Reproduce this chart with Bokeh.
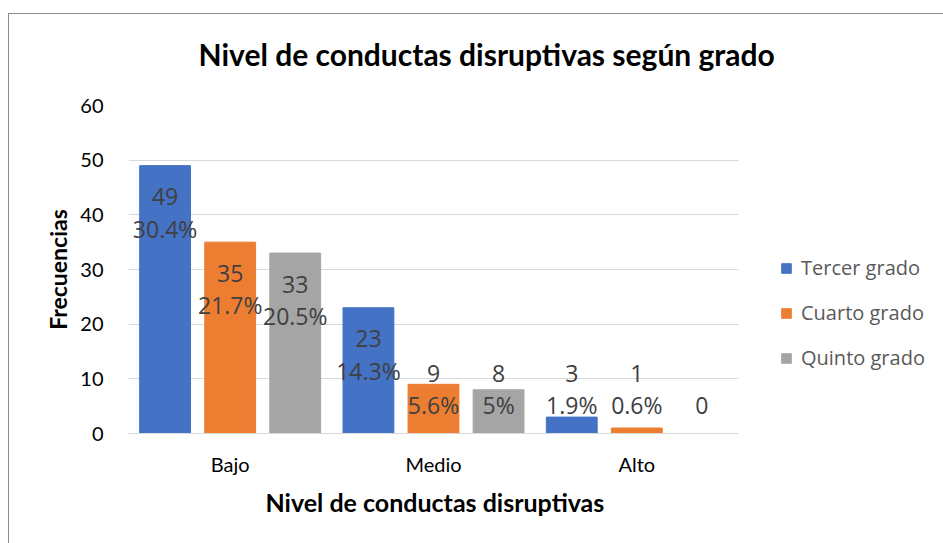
from bokeh.plotting import figure
from bokeh.models import ColumnDataSource, Range1d, Legend, LegendItem, FixedTicker, Title
from bokeh.core.properties import value
from bokeh.embed import file_html
from bokeh.resources import INLINE

categories = ["Bajo", "Medio", "Alto"]
series = ["Tercer grado", "Cuarto grado", "Quinto grado"]
tercer = [49, 23, 3]
cuarto = [35, 9, 1]
quinto = [33, 8, 0]
tercer_pct = ["30.4%", "14.3%", "1.9%"]
cuarto_pct = ["21.7%", "5.6%", "0.6%"]
quinto_pct = ["20.5%", "5%", ""]
y_ticks = [0, 10, 20, 30, 40, 50, 60]

colors = ["#4472C4", "#ED7D31", "#A5A5A5"]
offsets = [-0.32, 0.0, 0.32]

W, H = 943, 543
FRAME_L, FRAME_R_PLOT = 128, 738          # plot area (gridlines) in pixels
n_cat = len(categories)
x_end = n_cat * (W - FRAME_L) / (FRAME_R_PLOT - FRAME_L)   # frame extends to the right edge for the legend
centers = [i + 0.5 for i in range(n_cat)]

p = figure(x_range=Range1d(0, x_end), y_range=Range1d(0, 60), width=W, height=H,
           output_backend="svg", toolbar_location=None,
           min_border_left=FRAME_L, min_border_right=0, min_border_top=105, min_border_bottom=110)
p.outline_line_color = None
p.background_fill_color = "white"
p.border_fill_alpha = 0
p.styles = {
    "background": "linear-gradient(#8C8C8C,#8C8C8C) 8px 13px / 100% 1px no-repeat, "
                  "linear-gradient(#8C8C8C,#8C8C8C) 8px 13px / 1px 100% no-repeat, white"
}

FONT = "Lato"
LBL_FONT = "Open Sans"

p.title.text = "Nivel de conductas disruptivas según grado"
p.title.align = "left"
p.title.vertical_align = "top"
p.title.offset = 70
p.title.standoff = 63
p.title.text_font = FONT
p.title.text_font_style = "bold"
p.title.text_font_size = "30px"
p.title.text_color = "#000000"

renderers = []
for vals, pcts, col, off, name in zip([tercer, cuarto, quinto],
                                      [tercer_pct, cuarto_pct, quinto_pct],
                                      colors, offsets, series):
    y1, y2, t1, xs = [], [], [], []
    for c, v, pc in zip(centers, vals, pcts):
        a = max(v - 5.7, 11.0)
        b = a - 5.85
        y1.append(a if pc else b)
        y2.append(b)
        t1.append(str(v))
        xs.append(c + off)
    src = ColumnDataSource(dict(x=xs, v=vals, pct=pcts, y1=y1, y2=y2, t1=t1))
    r = p.vbar(x="x", top="v", width=0.25, source=src, fill_color=col, line_color=col)
    renderers.append((name, r))
    p.text(x="x", y="y1", text="t1", source=src,
           text_align="center", text_baseline="middle", text_color="#404040",
           text_font=value(LBL_FONT), text_font_size="23px")
    p.text(x="x", y="y2", text="pct", source=src,
           text_align="center", text_baseline="middle", text_color="#404040",
           text_font=value(LBL_FONT), text_font_size="23px")

# axes
p.yaxis.ticker = FixedTicker(ticks=y_ticks)
p.yaxis.axis_line_color = None
p.yaxis.major_tick_line_color = None
p.yaxis.minor_tick_line_color = None
p.yaxis.major_label_text_font = FONT
p.yaxis.major_label_text_font_size = "20px"
p.yaxis.major_label_text_color = "#000000"
p.yaxis.major_label_standoff = 19
p.yaxis.axis_label = "Frecuencias"
p.yaxis.axis_label_text_font = FONT
p.yaxis.axis_label_text_font_style = "bold"
p.yaxis.axis_label_text_font_size = "23px"
p.yaxis.axis_label_text_color = "#000000"
p.yaxis.axis_label_standoff = 5

p.xaxis.ticker = FixedTicker(ticks=centers)
p.xaxis.major_label_overrides = {c: lab for c, lab in zip(centers, categories)}
p.xaxis.bounds = (0, n_cat)
p.xaxis.axis_line_color = "#D9D9D9"
p.xaxis.major_tick_line_color = None
p.xaxis.minor_tick_line_color = None
p.xaxis.major_label_text_font = FONT
p.xaxis.major_label_text_font_size = "20px"
p.xaxis.major_label_text_color = "#000000"
p.xaxis.major_label_standoff = 12

# x axis title, centred under the plot area (not the legend area)
p.add_layout(Title(text="Nivel de conductas disruptivas", align="left", offset=137, standoff=12,
                   text_font=FONT, text_font_style="bold", text_font_size="25px",
                   text_color="#000000"), "below")

p.xgrid.grid_line_color = None
p.ygrid.grid_line_color = "#D9D9D9"
p.ygrid.grid_line_width = 1
p.ygrid.cross_bounds = (0, n_cat)

legend = Legend(items=[LegendItem(label=n, renderers=[r]) for n, r in renderers],
                location=(652, 62), orientation="vertical",
                label_text_font=LBL_FONT, label_text_font_size="20px", label_text_color="#595959",
                glyph_width=12, glyph_height=12, label_height=20, spacing=18, label_standoff=9,
                padding=0, margin=0, border_line_color=None, background_fill_alpha=0)
p.add_layout(legend, "center")

open("out.html", "w").write(file_html(p, INLINE))
